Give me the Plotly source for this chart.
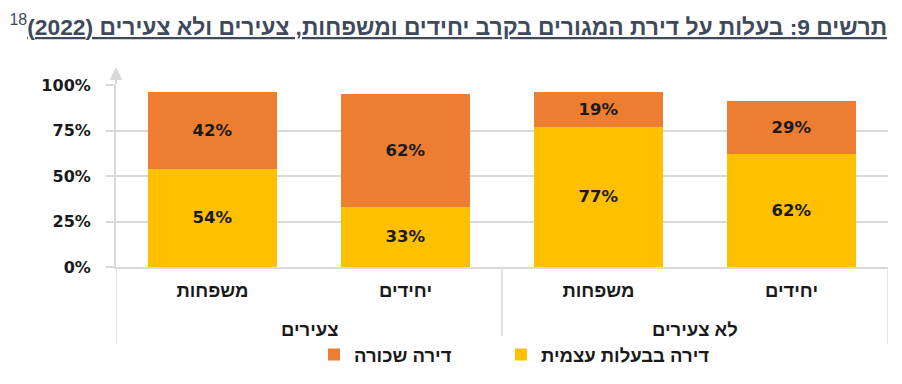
import plotly.graph_objects as go

groups = ["צעירים", "צעירים", "לא צעירים", "לא צעירים"]
subcats = ["משפחות", "יחידים", "משפחות", "יחידים"]
owned = [54, 33, 77, 62]
rented = [42, 62, 19, 29]
series_names = ["דירה בבעלות עצמית", "דירה שכורה"]
tick_vals = [0, 25, 50, 75, 100]
tick_text = ["0%", "25%", "50%", "75%", "100%"]
title_text = "תרשים 9: בעלות על דירת המגורים בקרב יחידים ומשפחות, צעירים ולא צעירים (2022)"
footnote = "18"

YELLOW = "#FFC000"
ORANGE = "#ED7D31"
GRID = "#D9D9D9"
HEB = "Liberation Sans, DejaVu Sans"
NUM = "DejaVu Sans, Liberation Sans, sans-serif"

xpos = list(range(len(subcats)))

fig = go.Figure()
fig.add_trace(go.Bar(
    x=xpos, y=owned, name=series_names[0], width=0.67, legend="legend2",
    marker=dict(color=YELLOW, line=dict(width=0)),
    texttemplate="%{y}%", textposition="inside", insidetextanchor="middle",
    textfont=dict(family=NUM, size=16.5, color="#1a1a1a", weight="bold"),
))
fig.add_trace(go.Bar(
    x=xpos, y=rented, name=series_names[1], width=0.67, legend="legend",
    marker=dict(color=ORANGE, line=dict(width=0)),
    texttemplate="%{y}%", textposition="inside", insidetextanchor="middle",
    textfont=dict(family=NUM, size=16.5, color="#1a1a1a", weight="bold"),
))

legend_font = dict(family=HEB, size=18.5, color="#1a1a1a", weight="bold")
fig.update_layout(
    width=902, height=384,
    margin=dict(l=116, r=14, t=85, b=117, autoexpand=False),
    barmode="stack",
    plot_bgcolor="white", paper_bgcolor="white",
    showlegend=True,
    legend=dict(
        orientation="h",
        xref="container", x=314/902, xanchor="left",
        yref="container", y=1 - 355/384, yanchor="middle",
        font=legend_font,
    ),
    legend2=dict(
        orientation="h",
        xref="container", x=501/902, xanchor="left",
        yref="container", y=1 - 355/384, yanchor="middle",
        font=legend_font,
    ),
    title=dict(
        text="<b><u>\u200f" + title_text + "\u200f</u></b><sup>" + footnote + "</sup>",
        xref="container", x=887/902, xanchor="right",
        yref="container", y=1 - 27/384, yanchor="middle",
        font=dict(family=HEB, size=22.8, color="#3E4A5C"),
    ),
)
fig.update_yaxes(
    range=[0, 100], tickvals=tick_vals, ticktext=tick_text,
    showgrid=True, gridcolor=GRID, gridwidth=1.5,
    ticks="outside", ticklen=8, tickcolor=GRID, tickwidth=1.5,
    ticklabelstandoff=12,
    showline=True, linecolor=GRID, linewidth=2,
    tickfont=dict(family=NUM, size=16, color="#1a1a1a", weight="bold"),
    zeroline=False,
)
fig.update_xaxes(
    range=[-0.5, len(subcats) - 0.5],
    tickvals=xpos, ticktext=subcats,
    showline=True, linecolor=GRID, linewidth=1.5,
    showgrid=False, zeroline=False, ticks="",
    ticklabelstandoff=6,
    tickfont=dict(family=HEB, size=18.5, color="#1a1a1a", weight="bold"),
)

# group labels and dividers, derived from the groups list
unique_groups = []
for g in groups:
    if g not in unique_groups:
        unique_groups.append(g)
boundaries = [-0.5]
for g in unique_groups:
    idx = [i for i, gg in enumerate(groups) if gg == g]
    fig.add_annotation(
        xref="x", yref="paper", x=sum(idx) / len(idx), y=-(329 - 267) / 182,
        text="<b>" + g + "</b>", showarrow=False, yanchor="middle",
        font=dict(family=HEB, size=18.5, color="#1a1a1a"),
    )
    boundaries.append(max(idx) + 0.5)
for b in boundaries:
    fig.add_shape(
        type="line", xref="x", yref="paper", x0=b, x1=b, y0=0, y1=-(344 - 267) / 182,
        line=dict(color=GRID, width=1.5),
    )

fig.add_annotation(
    xref="paper", yref="paper", x=0, y=1 + 18/182,
    ax=0, ay=19, text="", showarrow=True,
    arrowhead=2, arrowsize=1.3, arrowwidth=2, arrowcolor=GRID,
)
fig.write_html("out.html", config={"displayModeBar": False},
               post_script="document.body.style.margin='0';")
